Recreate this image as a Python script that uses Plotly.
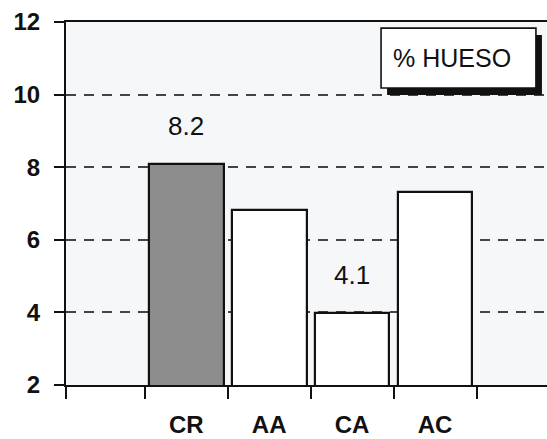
import plotly.graph_objects as go

# ---- data ----
categories = ["CR", "AA", "CA", "AC"]
values = [8.09, 6.82, 3.97, 7.32]
bar_labels = ["8.2", "", "4.1", ""]
bar_colors = ["#8c8c8c", "#ffffff", "#ffffff", "#ffffff"]
y_ticks = [2, 4, 6, 8, 10, 12]
legend_text = "% HUESO"

positions = list(range(len(categories)))
FONT = "Liberation Sans, Arial, sans-serif"

fig = go.Figure()
fig.add_trace(go.Bar(
    x=positions, y=values, base=0, width=0.9,
    marker=dict(color=bar_colors, line=dict(color="#111111", width=2.2)),
    showlegend=False, hoverinfo="skip",
))

for p, v, t in zip(positions, values, bar_labels):
    if t:
        fig.add_annotation(x=p, y=v, text=t, showarrow=False, yshift=38,
                           font=dict(family=FONT, size=26, color="#111111"))

# legend-like box with drop shadow
bx0, bx1, by0, by1 = 0.655, 0.977, 0.818, 0.983
dx, dy = 0.0125, 0.019
fig.add_shape(type="rect", xref="paper", yref="paper",
              x0=bx0 + dx, x1=bx1 + dx, y0=by0 - dy, y1=by1 - dy,
              fillcolor="#111111", line=dict(width=0), layer="above")
fig.add_shape(type="rect", xref="paper", yref="paper",
              x0=bx0, x1=bx1, y0=by0, y1=by1,
              fillcolor="#ffffff", line=dict(color="#111111", width=1.6), layer="above")
fig.add_annotation(xref="paper", yref="paper", x=0.8025, y=0.901,
                   xanchor="center", yanchor="middle",
                   text=legend_text, showarrow=False,
                   font=dict(family=FONT, size=25, color="#111111"))

fig.update_layout(
    width=547, height=439,
    margin=dict(l=66, r=0, t=22, b=54),
    paper_bgcolor="#ffffff", plot_bgcolor="#f6f7f9",
    bargap=0,
    xaxis=dict(
        range=[-1.45, 4.35], tickmode="array", tickvals=positions, ticktext=categories,
        ticks="", showgrid=False, zeroline=False,
        showline=True, linecolor="#111111", linewidth=2, mirror=True,
        tickfont=dict(family=FONT, size=24, color="#111111", weight="bold"),
        ticklabelstandoff=17,
        minor=dict(tickmode="array", tickvals=[-1.45, -0.5, 0.5, 1.5, 2.5, 3.5],
                   ticks="outside", ticklen=12, tickwidth=2, tickcolor="#111111",
                   showgrid=False),
    ),
    yaxis=dict(
        range=[2, 12], tickmode="array", tickvals=y_ticks,
        ticks="outside", ticklen=10, tickwidth=2, tickcolor="#111111",
        showline=True, linecolor="#111111", linewidth=2,
        showgrid=True, gridcolor="#444444", gridwidth=1.5, griddash="10px,8px",
        zeroline=False,
        tickfont=dict(family=FONT, size=24, color="#111111", weight="bold"),
        ticklabelstandoff=9,
    ),
)

fig.write_html("out.html", config={"displayModeBar": False},
               post_script="document.body.style.margin='0px';")
